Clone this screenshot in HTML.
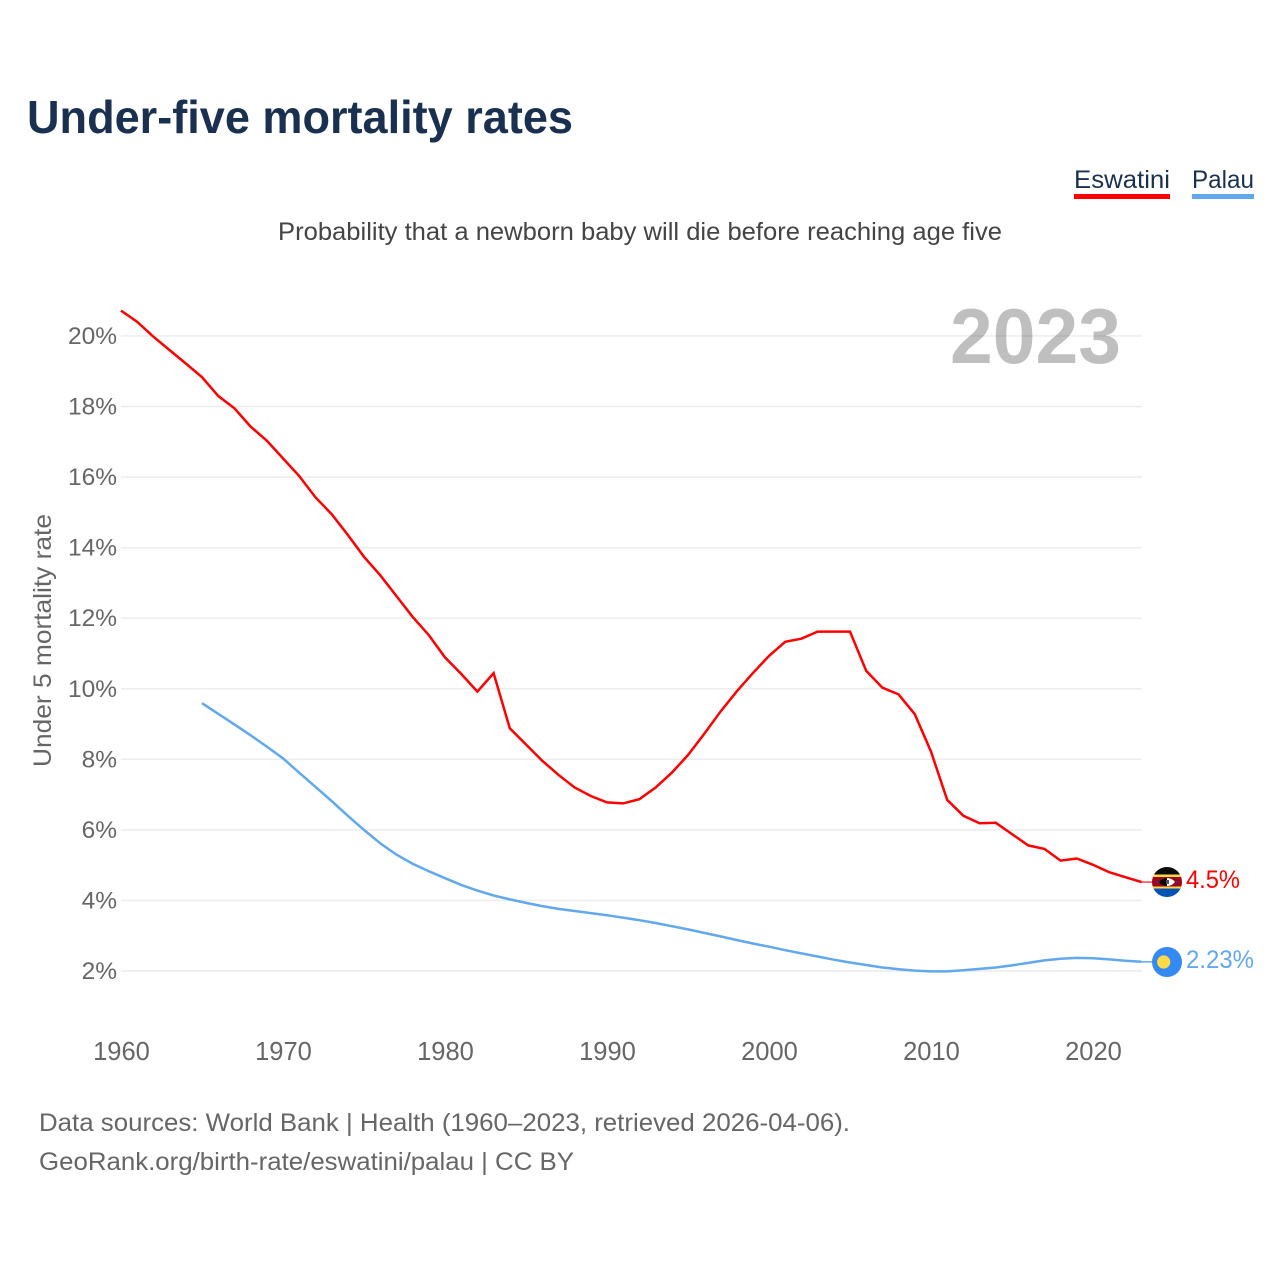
<!DOCTYPE html>
<html lang="en">
<head>
<meta charset="utf-8">
<title>Under-five mortality rates</title>
<style>
html,body{margin:0;padding:0;background:#fff;width:1280px;height:1280px;overflow:hidden}
svg{display:block}
text{font-family:"Liberation Sans",sans-serif}
</style>
</head>
<body>
<svg id="chart" xmlns="http://www.w3.org/2000/svg" width="1280" height="1280" viewBox="0 0 1280 1280">
  <rect x="0" y="0" width="1280" height="1280" fill="#fff"/>
  <text x="27" y="133" font-size="46" font-weight="700" fill="#1a3050" textLength="546" lengthAdjust="spacingAndGlyphs">Under-five mortality rates</text>
  <text x="278" y="240" font-size="25" fill="#444" textLength="724" lengthAdjust="spacingAndGlyphs">Probability that a newborn baby will die before reaching age five</text>

  <g>
    <text x="1074" y="188" font-size="25" fill="#1a3050" textLength="96" lengthAdjust="spacingAndGlyphs">Eswatini</text>
    <rect x="1074" y="194" width="96" height="5" fill="#ff0000"/>
  </g>
  <g>
    <text x="1192" y="188" font-size="25" fill="#1a3050" textLength="62" lengthAdjust="spacingAndGlyphs">Palau</text>
    <rect x="1192" y="194" width="62" height="5" fill="#62a8ee"/>
  </g>

  <g id="grid"></g>
  <text x="950" y="363" font-size="78" font-weight="700" fill="#000" fill-opacity="0.25" textLength="171" lengthAdjust="spacingAndGlyphs">2023</text>
  <g id="yticks"></g>
  <g id="xticks"></g>
  <text transform="translate(51,767) rotate(-90)" x="0" y="0" font-size="25" fill="#666" textLength="253" lengthAdjust="spacingAndGlyphs">Under 5 mortality rate</text>
  <g id="series"></g>

  <defs>
    <clipPath id="clip-sz"><circle cx="1167" cy="882" r="15"/></clipPath>
  </defs>
  <g id="end-labels"></g>
  <g clip-path="url(#clip-sz)">
    <rect x="1152" y="866" width="30" height="8.5" fill="#0a0a0a"/>
    <rect x="1152" y="874.5" width="30" height="2.5" fill="#ffda44"/>
    <rect x="1152" y="877" width="30" height="9.5" fill="#a2001d"/>
    <rect x="1152" y="886.5" width="30" height="2" fill="#ffda44"/>
    <rect x="1152" y="888.5" width="30" height="9.5" fill="#0052b4"/>
    <circle cx="1157" cy="882" r="1" fill="#0052b4"/>
    <circle cx="1177" cy="882" r="1" fill="#0052b4"/>
    <ellipse cx="1167" cy="882" rx="7.5" ry="3.8" fill="#000"/>
    <path d="M1167 878 Q1172 878 1175 882 Q1172 886 1167 886 Z" fill="#fff"/>
    <rect x="1166" y="880" width="3" height="4" fill="#555"/>
  </g>
  <g>
    <circle cx="1167" cy="962" r="15" fill="#338af3"/>
    <circle cx="1163.7" cy="962" r="6.6" fill="#ffda44"/>
  </g>

  <text x="39" y="1131" font-size="25" fill="#666" textLength="811" lengthAdjust="spacingAndGlyphs">Data sources: World Bank | Health (1960–2023, retrieved 2026-04-06).</text>
  <text x="39" y="1170" font-size="25" fill="#666" textLength="535" lengthAdjust="spacingAndGlyphs">GeoRank.org/birth-rate/eswatini/palau | CC BY</text>
</svg>
<script>
const yTickValues = [2, 4, 6, 8, 10, 12, 14, 16, 18, 20];
const xTickYears = [1960, 1970, 1980, 1990, 2000, 2010, 2020];
const eswatiniStartYear = 1960;
const palauStartYear = 1965;
const eswatiniValues = [
  20.72, 20.4, 19.98, 19.6, 19.22, 18.83, 18.3, 17.95, 17.43, 17.03,
  16.53, 16.03, 15.43, 14.95, 14.36, 13.74, 13.22, 12.63, 12.04, 11.52,
  10.89, 10.42, 9.92, 10.44, 8.88, 8.42, 7.96, 7.56, 7.2, 6.96,
  6.78, 6.75, 6.87, 7.2, 7.62, 8.12, 8.72, 9.35, 9.92, 10.44,
  10.93, 11.33, 11.42, 11.62, 11.62, 11.62, 10.51, 10.03, 9.84, 9.28,
  8.22, 6.85, 6.4, 6.19, 6.2, 5.88, 5.56, 5.46, 5.13, 5.19,
  5.01, 4.8, 4.66, 4.52
];
const palauValues = [
  9.59, 9.29, 8.99, 8.68, 8.36, 8.03, 7.62, 7.22, 6.82, 6.4,
  6.0, 5.62, 5.3, 5.04, 4.83, 4.63, 4.44, 4.28, 4.14, 4.03,
  3.93, 3.84, 3.76, 3.7, 3.64, 3.58, 3.51, 3.44, 3.36, 3.27,
  3.18, 3.08, 2.98, 2.88, 2.78, 2.69, 2.59, 2.5, 2.41, 2.32,
  2.24, 2.17, 2.1, 2.05, 2.01, 1.99, 1.99, 2.02, 2.06, 2.1,
  2.16, 2.23, 2.3, 2.35, 2.37, 2.36, 2.33, 2.29, 2.26
];
const endLabels = ['4.5%', '2.23%'];

const SVGNS = 'http://www.w3.org/2000/svg';
function xScale(year) { return 121 + (year - 1960) * 16.2; }
function yScale(value) { return 971 - (value - 2) * 35.28; }
function node(tag, parent) {
  const el = document.createElementNS(SVGNS, tag);
  parent.appendChild(el);
  return el;
}
function linePath(values, startYear) {
  return values.map(function (v, i) {
    return (i ? 'L' : 'M') + xScale(startYear + i).toFixed(1) + ' ' + yScale(v).toFixed(1);
  }).join(' ');
}

const gridGroup = document.getElementById('grid');
const yTickGroup = document.getElementById('yticks');
yTickValues.forEach(function (v) {
  const line = node('line', gridGroup);
  
  
  line.setAttribute('x1', 121);
  line.setAttribute('x2', 1142);
  line.setAttribute('y1', yScale(v));
  line.setAttribute('y2', yScale(v));
  line.setAttribute('stroke', '#ececec');
  line.setAttribute('stroke-width', 1.4);
  const label = node('text', yTickGroup);
  
  
  label.setAttribute('x', 117);
  label.setAttribute('y', yScale(v) + 8);
  label.setAttribute('text-anchor', 'end');
  label.setAttribute('font-size', 24.5);
  label.setAttribute('fill', '#666');
  label.textContent = v + '%';
});

const xTickGroup = document.getElementById('xticks');
xTickYears.forEach(function (year) {
  const label = node('text', xTickGroup);
  
  
  label.setAttribute('x', xScale(year) + 0.5);
  label.setAttribute('y', 1060);
  label.setAttribute('text-anchor', 'middle');
  label.setAttribute('font-size', 25.5);
  label.setAttribute('fill', '#666');
  label.textContent = year;
});

const seriesGroup = document.getElementById('series');
const palauLine = node('path', seriesGroup);


palauLine.setAttribute('d', linePath(palauValues, palauStartYear));
palauLine.setAttribute('fill', 'none');
palauLine.setAttribute('stroke', '#62a8ee');
palauLine.setAttribute('stroke-width', 2.5);

const eswatiniLine = node('path', seriesGroup);


eswatiniLine.setAttribute('d', linePath(eswatiniValues, eswatiniStartYear));
eswatiniLine.setAttribute('fill', 'none');
eswatiniLine.setAttribute('stroke', '#ff0000');
eswatiniLine.setAttribute('stroke-width', 2.5);

const endGroup = document.getElementById('end-labels');
const lastEswatini = eswatiniValues[eswatiniValues.length - 1];
const lastPalau = palauValues[palauValues.length - 1];

const connectorEswatini = node('line', endGroup);


connectorEswatini.setAttribute('x1', xScale(2023));
connectorEswatini.setAttribute('x2', 1154);
connectorEswatini.setAttribute('y1', yScale(lastEswatini));
connectorEswatini.setAttribute('y2', yScale(lastEswatini));
connectorEswatini.setAttribute('stroke', '#ff0000');
connectorEswatini.setAttribute('stroke-opacity', 0.75);
connectorEswatini.setAttribute('stroke-width', 1.5);

const connectorPalau = node('line', endGroup);


connectorPalau.setAttribute('x1', xScale(2023));
connectorPalau.setAttribute('x2', 1154);
connectorPalau.setAttribute('y1', yScale(lastPalau));
connectorPalau.setAttribute('y2', yScale(lastPalau));
connectorPalau.setAttribute('stroke', '#62a8ee');
connectorPalau.setAttribute('stroke-width', 1.5);

const labelEswatini = node('text', endGroup);


labelEswatini.setAttribute('x', 1186);
labelEswatini.setAttribute('y', 888);
labelEswatini.setAttribute('font-size', 25);
labelEswatini.setAttribute('fill', '#ff0000');
labelEswatini.setAttribute('textLength', 54);
labelEswatini.setAttribute('lengthAdjust', 'spacingAndGlyphs');
labelEswatini.textContent = endLabels[0];

const labelPalau = node('text', endGroup);


labelPalau.setAttribute('x', 1186);
labelPalau.setAttribute('y', 968);
labelPalau.setAttribute('font-size', 25);
labelPalau.setAttribute('fill', '#62a8ee');
labelPalau.setAttribute('textLength', 68);
labelPalau.setAttribute('lengthAdjust', 'spacingAndGlyphs');
labelPalau.textContent = endLabels[1];
</script>
</body>
</html>
